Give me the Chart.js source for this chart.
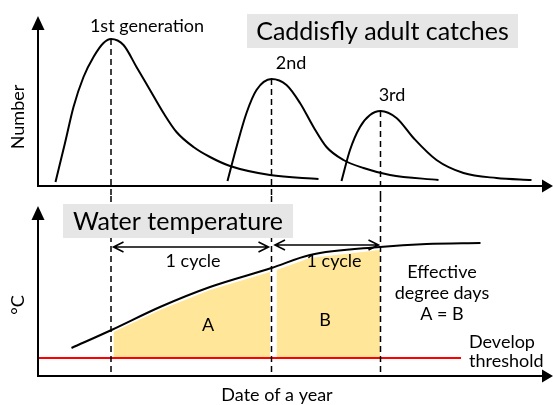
<!DOCTYPE html>
<html>
<head>
<meta charset="utf-8">
<script src="https://cdn.jsdelivr.net/npm/chart.js@4.4.0/dist/chart.umd.min.js"></script>
<style>
  body { margin: 0; background: #fff; }
  canvas { display: block; }
</style>
</head>
<body>
<canvas id="myChart" width="553" height="405"></canvas>
<script>
/******************************************* data **/
// top panel: adult catches of each generation (x = date, y = number)
const gen1X = [3.5, 5.4, 7.1, 9.1, 11.1, 13.1, 14.6, 17.1, 19.7, 22.4, 25.1, 27.7, 31.1, 34.4, 38.4, 46.4, 56.1];
const gen1Y = [0.4, 4.3, 7.9, 10.9, 12.9, 14.3, 14.7, 14.1, 11.9, 9.6, 7.3, 5.4, 3.9, 2.9, 2.0, 1.1, 0.7];
const gen2X = [37.9, 39.7, 41.7, 43.7, 46.7, 49.7, 52.4, 55.1, 57.7, 61.1, 65.1, 70.4, 80.1];
const gen2Y = [0.5, 3.9, 7.3, 9.6, 10.7, 10.1, 8.3, 5.9, 3.9, 2.6, 1.8, 1.1, 0.6];
const gen3X = [60.7, 62.4, 64.4, 66.4, 68.5, 71.7, 75.1, 79.7, 85.1, 91.7, 98.7];
const gen3Y = [0.5, 3.6, 5.9, 7.1, 7.5, 6.8, 4.8, 2.6, 1.3, 0.8, 0.6];

// peaks of the three generations
const peakX = [14.6, 46.7, 68.5];
const peakY = [14.7, 10.7, 7.5];
const peakLabels = ["1st generation", "2nd", "3rd"];

// bottom panel: water temperature
const tempX = [6.7, 14.7, 24.4, 34.4, 46.7, 54.4, 68.4, 77.7, 88.5];
const tempY = [2.8, 4.6, 6.9, 8.9, 10.8, 12.1, 12.9, 13.2, 13.3];

// development threshold
const threshold = 1.8;
const thresholdEndX = 84.6;

// effective degree days areas
const areaAX = [15.1, 24.4, 34.4, 46.4];
const areaAY = [4.4, 6.6, 8.6, 10.4];
const areaBX = [47.7, 54.4, 68.4];
const areaBY = [10.6, 11.8, 12.6];

/******************************************* helpers **/
const FONT = "Lato, 'Open Sans', sans-serif";
const toPoints = (xs, ys) => xs.map((x, i) => ({ x: x, y: ys[i] }));

function curve(xs, ys, axis) {
  return {
    data: toPoints(xs, ys),
    yAxisID: axis,
    borderColor: "#000",
    borderWidth: 2,
    pointRadius: 0,
    cubicInterpolationMode: "monotone",
    fill: false,
    order: 1,
  };
}

function area(xs, ys) {
  return {
    data: toPoints(xs, ys),
    yAxisID: "yBot",
    borderWidth: 0,
    borderColor: "rgba(0,0,0,0)",
    backgroundColor: "#ffe699",
    pointRadius: 0,
    fill: { value: threshold },
    order: 10,
  };
}

function dashed(x, y1, y2, axis) {
  return {
    data: [{ x: x, y: y1 }, { x: x, y: y2 }],
    yAxisID: axis,
    borderColor: "#000",
    borderWidth: 1.5,
    borderDash: [6, 4],
    pointRadius: 0,
    fill: false,
    order: 2,
  };
}

const TOP_MIN = -1, TOP_MAX = 17;
const BOT_MIN = 0, BOT_MAX = 18;

const datasets = [
  curve(gen1X, gen1Y, "yTop"),
  curve(gen2X, gen2Y, "yTop"),
  curve(gen3X, gen3Y, "yTop"),
  curve(tempX, tempY, "yBot"),
  {
    data: [{ x: 0, y: threshold }, { x: thresholdEndX, y: threshold }],
    yAxisID: "yBot",
    borderColor: "#ff0000",
    borderWidth: 2,
    pointRadius: 0,
    fill: false,
    order: 3,
  },
  area(areaAX, areaAY),
  area(areaBX, areaBY),
];
peakX.forEach((px, i) => {
  datasets.push(dashed(px, peakY[i], TOP_MIN, "yTop"));
  datasets.push(dashed(px, BOT_MAX, BOT_MIN, "yBot"));
});

/******************************************* drawing plugin **/
function arrowAxes(ctx, left, y0, topY, right) {
  ctx.strokeStyle = "#000";
  ctx.fillStyle = "#000";
  ctx.lineWidth = 2;
  ctx.setLineDash([]);
  ctx.beginPath();
  ctx.moveTo(left, y0);
  ctx.lineTo(left, topY + 12);
  ctx.moveTo(left - 1, y0);
  ctx.lineTo(right - 10, y0);
  ctx.stroke();
  // arrow heads
  ctx.beginPath();
  ctx.moveTo(left, topY);
  ctx.lineTo(left - 6.5, topY + 14);
  ctx.lineTo(left + 6.5, topY + 14);
  ctx.closePath();
  ctx.fill();
  ctx.beginPath();
  ctx.moveTo(right, y0);
  ctx.lineTo(right - 11, y0 - 6.5);
  ctx.lineTo(right - 11, y0 + 6.5);
  ctx.closePath();
  ctx.fill();
}

function doubleArrow(ctx, x1, x2, y) {
  ctx.strokeStyle = "#000";
  ctx.lineWidth = 1.6;
  ctx.setLineDash([]);
  ctx.beginPath();
  ctx.moveTo(x1, y);
  ctx.lineTo(x2, y);
  ctx.moveTo(x1 + 10, y - 5);
  ctx.lineTo(x1, y);
  ctx.lineTo(x1 + 10, y + 5);
  ctx.moveTo(x2 - 10, y - 5);
  ctx.lineTo(x2, y);
  ctx.lineTo(x2 - 10, y + 5);
  ctx.stroke();
}

function label(ctx, text, x, y, size, align) {
  ctx.font = size + "px " + FONT;
  ctx.fillStyle = "#000";
  ctx.textAlign = align || "center";
  ctx.textBaseline = "middle";
  ctx.fillText(text, x, y);
}

function box(ctx, text, x1, y1, x2, y2) {
  ctx.fillStyle = "#e6e6e6";
  ctx.fillRect(x1, y1, x2 - x1, y2 - y1);
  label(ctx, text, (x1 + x2) / 2, (y1 + y2) / 2 + 1, 25);
}

const schematicPlugin = {
  id: "schematic",
  afterDatasetsDraw(chart) {
    const { ctx, chartArea } = chart;
    const x = chart.scales.x;
    const yTop = chart.scales.yTop;
    const yBot = chart.scales.yBot;
    ctx.save();

    // axes with arrows
    arrowAxes(ctx, chartArea.left, yTop.getPixelForValue(0), chartArea.top, chartArea.right);
    arrowAxes(ctx, chartArea.left, yBot.getPixelForValue(0), yBot.getPixelForValue(17), chartArea.right);

    // title boxes
    box(ctx, "Caddisfly adult catches", 247, 14, 518, 48);
    box(ctx, "Water temperature", 63, 204, 293, 238);

    // generation labels
    label(ctx, peakLabels[0], 147, 26, 18);
    label(ctx, peakLabels[1], 291, 63, 18);
    label(ctx, peakLabels[2], 392, 95, 18);

    // cycles
    doubleArrow(ctx, x.getPixelForValue(15.1), x.getPixelForValue(46.1), yBot.getPixelForValue(12.9));
    doubleArrow(ctx, x.getPixelForValue(47.4), x.getPixelForValue(68.1), yBot.getPixelForValue(13.1));
    label(ctx, "1 cycle", 193, 261, 18);
    label(ctx, "1 cycle", 334, 261, 18);
    label(ctx, "A", 208, 325, 18);
    label(ctx, "B", 325, 320, 18);

    label(ctx, "Effective", 442, 272, 18);
    label(ctx, "degree days", 442, 293, 18);
    label(ctx, "A = B", 442, 314, 18);
    label(ctx, "Develop", 469, 342, 18, "left");
    label(ctx, "threshold", 469, 361, 18, "left");

    // axis titles
    label(ctx, "Date of a year", 277, 395, 18);
    ctx.save();
    ctx.translate(18, 117);
    ctx.rotate(-Math.PI / 2);
    label(ctx, "Number", 0, 0, 18);
    ctx.restore();
    ctx.save();
    ctx.translate(18, 305);
    ctx.rotate(-Math.PI / 2);
    label(ctx, "\u00B0C", 0, 0, 18);
    ctx.restore();

    ctx.restore();
  },
};

/******************************************* chart **/
// left-stacked scales are laid out last-first, so the bottom panel is listed first
const myChart = new Chart(document.getElementById("myChart"), {
  type: "line",
  data: { datasets: datasets },
  options: {
    responsive: false,
    animation: false,
    layout: { padding: { left: 38, right: 0, top: 16, bottom: 29 } },
    plugins: { legend: { display: false }, tooltip: { enabled: false } },
    scales: {
      x: { type: "linear", min: 0, max: 103, display: false },
      yBot: { type: "linear", position: "left", min: BOT_MIN, max: BOT_MAX, stack: "panels", stackWeight: 1, display: false },
      yTop: { type: "linear", position: "left", min: TOP_MIN, max: TOP_MAX, stack: "panels", stackWeight: 1, display: false },
    },
  },
  plugins: [schematicPlugin],
});
</script>
</body>
</html>
